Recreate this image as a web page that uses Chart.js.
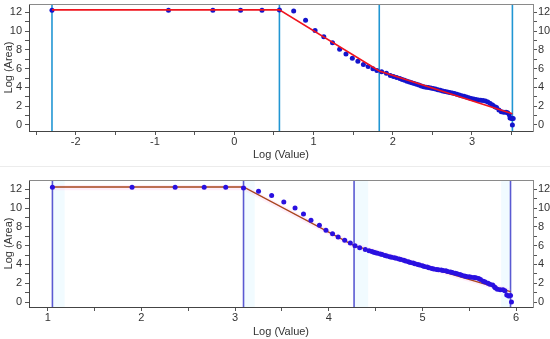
<!DOCTYPE html>
<html>
<head>
<meta charset="utf-8">
<script src="https://cdn.jsdelivr.net/npm/chart.js@4/dist/chart.umd.min.js"></script>
<style>
    html, body { margin: 0; padding: 0; background: #fff; }
    #wrap { position: relative; width: 550px; height: 339px; overflow: hidden; }
    .box { position: absolute; left: 0; width: 550px; }
    #topBox { top: 0; height: 166px; }
    #botBox { top: 166px; height: 173px; border-top: 1px solid #ececec; }
</style>
</head>
<body>
<div id="wrap">
    <div class="box" id="topBox"><canvas id="topChart" width="550" height="166"></canvas></div>
    <div class="box" id="botBox"><canvas id="botChart" width="550" height="172"></canvas></div>
</div>
<script>
'use strict';

// ---- upper panel ----
var topLogValue = [-2.3, -0.83, -0.27, 0.08, 0.35, 0.57, 0.75, 0.9, 1.02, 1.13, 1.24, 1.33, 1.41, 1.49, 1.56, 1.63, 1.69, 1.75, 1.8, 1.86, 1.92, 1.97,
    2.01, 2.05, 2.09, 2.12, 2.15, 2.18, 2.21, 2.24, 2.27, 2.3, 2.33, 2.36, 2.39, 2.42, 2.45, 2.48, 2.51, 2.54, 2.57, 2.6, 2.63, 2.66, 2.69, 2.72,
    2.75, 2.78, 2.81, 2.84, 2.87, 2.9, 2.93, 2.96, 2.99, 3.02, 3.05, 3.08, 3.11, 3.14, 3.17, 3.2, 3.23, 3.26, 3.29, 3.31, 3.34, 3.37, 3.4, 3.43,
    3.45, 3.47, 3.48, 3.5, 3.52, 3.51];
var topLogArea = [12.22, 12.22, 12.22, 12.22, 12.22, 12.24, 12.14, 11.15, 10.06, 9.39, 8.76, 8.05, 7.56, 7.1, 6.78, 6.43, 6.22, 6.0, 5.79, 5.68, 5.52, 5.27,
    5.15, 5.05, 4.95, 4.85, 4.75, 4.66, 4.58, 4.5, 4.42, 4.33, 4.25, 4.15, 4.08, 4.02, 3.98, 3.93, 3.88, 3.82, 3.76, 3.7, 3.63, 3.56, 3.5, 3.45,
    3.4, 3.35, 3.28, 3.2, 3.12, 3.05, 2.98, 2.9, 2.82, 2.77, 2.72, 2.67, 2.64, 2.6, 2.55, 2.45, 2.3, 2.12, 1.95, 1.85, 1.6, 1.42, 1.35, 1.35,
    1.3, 1.1, 0.75, 0.7, 0.7, 0.0];
var topFitX = [-2.3, 0.57, 1.83, 3.51];
var topFitY = [12.25, 12.25, 5.75, 1.2];
var topBreaks = [-2.3, 0.57, 1.83, 3.51];
var topXTicks = [-2.5, -2, -1.5, -1, -0.5, 0, 0.5, 1, 1.5, 2, 2.5, 3, 3.5];

// ---- lower panel ----
var botLogValue = [1.05, 1.9, 2.36, 2.67, 2.9, 3.09, 3.25, 3.39, 3.52, 3.64, 3.73, 3.81, 3.9, 3.97, 4.04, 4.1, 4.17, 4.23, 4.28, 4.33, 4.39,
    4.43, 4.46, 4.48, 4.5, 4.52, 4.55, 4.57, 4.6, 4.62, 4.65, 4.67, 4.7, 4.72, 4.75, 4.77, 4.8, 4.82, 4.85, 4.87, 4.9, 4.92, 4.95, 4.97,
    5.0, 5.02, 5.05, 5.07, 5.1, 5.12, 5.15, 5.17, 5.2, 5.22, 5.25, 5.27, 5.3, 5.32, 5.35, 5.37, 5.4, 5.42, 5.45, 5.47, 5.5, 5.52, 5.55,
    5.57, 5.6, 5.62, 5.65, 5.67, 5.7, 5.72, 5.75, 5.77, 5.78, 5.8, 5.83, 5.86, 5.88, 5.9, 5.92, 5.94, 5.95];
var botLogArea = [12.22, 12.22, 12.22, 12.22, 12.22, 12.15, 11.8, 11.35, 10.65, 10.01, 9.37, 8.7, 8.17, 7.63, 7.28, 6.92, 6.57, 6.28, 6.0, 5.79, 5.58,
    5.45, 5.38, 5.3, 5.25, 5.2, 5.1, 5.05, 4.96, 4.9, 4.82, 4.77, 4.7, 4.65, 4.58, 4.52, 4.45, 4.38, 4.3, 4.22, 4.15, 4.08, 4.0, 3.93,
    3.85, 3.79, 3.72, 3.65, 3.58, 3.52, 3.47, 3.44, 3.4, 3.36, 3.32, 3.26, 3.2, 3.13, 3.06, 3.0, 2.92, 2.85, 2.78, 2.72, 2.68, 2.65, 2.62,
    2.58, 2.5, 2.4, 2.22, 2.12, 2.0, 1.9, 1.8, 1.6, 1.5, 1.35, 1.3, 1.3, 1.2, 0.75, 0.65, 0.7, 0.0];
var botFitX = [1.05, 3.09, 4.27, 5.94];
var botFitY = [12.25, 12.25, 6.0, 1.1];
var botBandHi = [12.45, 12.45, 6.3, 1.4];
var botBandLo = [11.9, 11.9, 5.7, 0.85];
var botBreaks = [1.05, 3.09, 4.27, 5.94];
var botShadeFrom = [1.05, 3.09, 4.27, 5.84];
var botShadeTo = [1.18, 3.21, 4.42, 5.94];
var botXTicks = [1, 1.5, 2, 2.5, 3, 3.5, 4, 4.5, 5, 5.5, 6];

var yTicks = [0, 1, 2, 3, 4, 5, 6, 7, 8, 9, 10, 11, 12];

var fontSpec = { family: '"Liberation Sans", Arial, sans-serif', size: 11 };
var textColor = '#333';

function toPoints(xs, ys) {
    return xs.map(function (x, i) { return { x: x, y: ys[i] }; });
}

var framePlugin = {
    id: 'frame',
    beforeDatasetsDraw: function (chart) {
        var shade = chart.options.plugins.frame.shade;
        if (!shade) return;
        var ctx = chart.ctx, area = chart.chartArea, xs = chart.scales.x;
        ctx.save();
        ctx.fillStyle = shade.color;
        shade.from.forEach(function (f, i) {
            var a = xs.getPixelForValue(f), b = xs.getPixelForValue(shade.to[i]);
            ctx.fillRect(a, area.top, b - a, area.bottom - area.top);
        });
        ctx.restore();
    },
    afterDraw: function (chart) {
        var ctx = chart.ctx, area = chart.chartArea;
        ctx.save();
        ctx.strokeStyle = '#8a8a8a';
        ctx.lineWidth = 1;
        ctx.beginPath();
        ctx.moveTo(area.left, area.top + 0.5);
        ctx.lineTo(area.right + 0.5, area.top + 0.5);
        ctx.lineTo(area.right + 0.5, area.bottom);
        ctx.stroke();
        ctx.restore();
    }
};

function makeChart(id, opt) {
    var yAxis = function (pos) {
        return {
            type: 'linear', position: pos, min: opt.yMin, max: opt.yMax,
            afterBuildTicks: function (a) { a.ticks = yTicks.map(function (v) { return { value: v }; }); },
            afterFit: function (a) {
                a.width = pos === 'left' ? 29 : 17;
                a.paddingTop = 0;
                a.paddingBottom = 0;
            },
            ticks: {
                font: fontSpec, color: textColor, padding: pos === 'left' ? 3 : 1, autoSkip: false,
                callback: function (v) { return v % 2 === 0 ? v : ''; }
            },
            grid: { drawOnChartArea: false, drawTicks: true, tickLength: 4, color: '#555' },
            border: { color: pos === 'left' ? '#444' : '#8a8a8a' },
            title: { display: pos === 'left', text: 'Log (Area)', font: fontSpec, color: textColor, padding: { top: 2, bottom: 0 } }
        };
    };
    return new Chart(document.getElementById(id), {
        type: 'scatter',
        data: { datasets: opt.datasets },
        plugins: [framePlugin],
        options: {
            responsive: false,
            animation: false,
            devicePixelRatio: 1,
            layout: { padding: { top: opt.padTop, left: 0, right: 0, bottom: 0 } },
            plugins: { legend: { display: false }, tooltip: { enabled: false }, frame: { shade: opt.shade } },
            scales: {
                x: {
                    type: 'linear', min: opt.xMin, max: opt.xMax,
                    afterBuildTicks: function (a) { a.ticks = opt.xTicks.map(function (v) { return { value: v }; }); },
                    afterFit: function (a) {
                        a.height = opt.xHeight;
                        a.paddingLeft = 0;
                        a.paddingRight = 0;
                    },
                    ticks: {
                        font: fontSpec, color: textColor, padding: 0, maxRotation: 0, autoSkip: false,
                        callback: function (v) { return Number.isInteger(v) ? v : ''; }
                    },
                    grid: { drawOnChartArea: false, drawTicks: true, tickLength: 4, color: '#555' },
                    border: { color: '#444' },
                    title: { display: true, text: 'Log (Value)', font: fontSpec, color: textColor, padding: { top: 0, bottom: opt.titlePad } }
                },
                y: yAxis('left'),
                y2: yAxis('right')
            }
        }
    });
}

function vLines(breaks, yMin, yMax, color) {
    return breaks.map(function (b) {
        return {
            data: [{ x: b, y: yMin }, { x: b, y: yMax }],
            showLine: true, borderColor: color, borderWidth: 1.6, pointRadius: 0
        };
    });
}

// upper chart
makeChart('topChart', {
    xMin: -2.59, xMax: 3.77, yMin: -0.64, yMax: 12.88,
    xTicks: topXTicks, padTop: 4, xHeight: 35, titlePad: 4,
    datasets: [
        {
            data: toPoints(topFitX, topFitY), showLine: true,
            borderColor: '#f0141e', borderWidth: 1.6, pointRadius: 0
        },
        {
            data: toPoints(topLogValue, topLogArea),
            pointRadius: 2.5, pointBackgroundColor: '#1414cc', pointBorderWidth: 0
        }
    ].concat(vLines(topBreaks, -0.64, 12.88, '#2196d3'))
});

// lower chart
makeChart('botChart', {
    xMin: 0.8, xMax: 6.18, yMin: -0.53, yMax: 12.99,
    xTicks: botXTicks, padTop: 13, xHeight: 32, titlePad: 0,
    shade: { color: 'rgba(225,247,255,0.45)', from: botShadeFrom, to: botShadeTo },
    datasets: [
        {
            data: toPoints(botLogValue, botLogArea),
            pointRadius: 2.5, pointBackgroundColor: '#2a10e0', pointBorderWidth: 0
        },
        {
            data: toPoints(botFitX, botFitY), showLine: true,
            borderColor: '#a8451e', borderWidth: 1.4, pointRadius: 0
        },
        {
            data: toPoints(botFitX, botBandHi), showLine: true, borderWidth: 0, pointRadius: 0,
            fill: '+1', backgroundColor: 'rgba(255,200,235,0.3)'
        },
        {
            data: toPoints(botFitX, botBandLo), showLine: true, borderWidth: 0, pointRadius: 0
        }
    ].concat(vLines(botBreaks, -0.53, 12.99, '#5a5ad2'))
});
</script>
</body>
</html>
